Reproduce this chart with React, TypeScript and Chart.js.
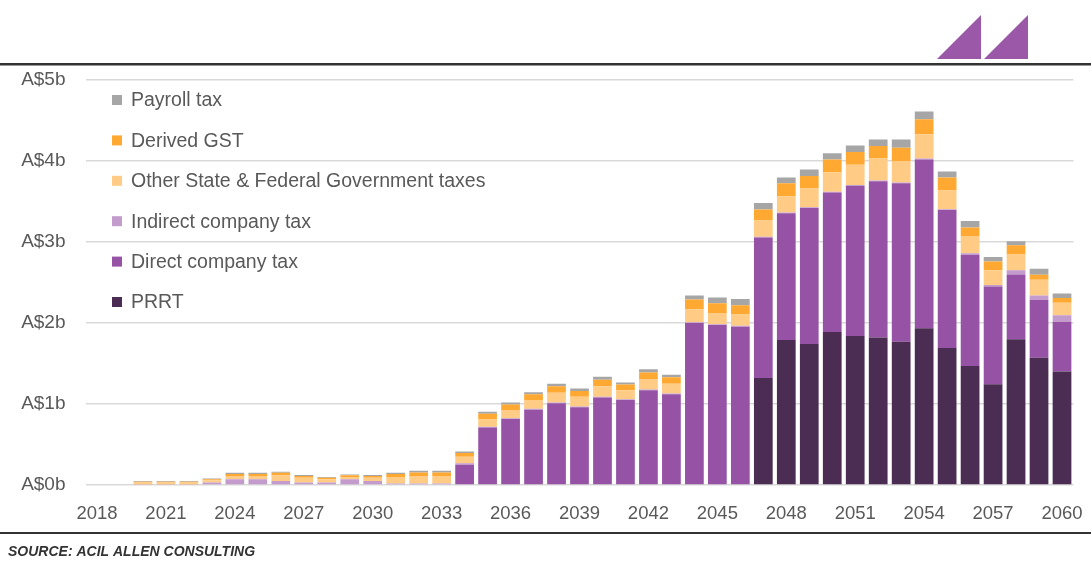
import React, { useEffect, useRef } from "react";
import { Chart, registerables } from "chart.js";
Chart.register(...registerables);

const years = [
  "2018", "2019", "2020", "2021", "2022", "2023", "2024", "2025", "2026", "2027",
  "2028", "2029", "2030", "2031", "2032", "2033", "2034", "2035", "2036", "2037",
  "2038", "2039", "2040", "2041", "2042", "2043", "2044", "2045", "2046", "2047",
  "2048", "2049", "2050", "2051", "2052", "2053", "2054", "2055", "2056", "2057",
  "2058", "2059", "2060",
];

const prrt = [
  0, 0, 0, 0, 0, 0, 0, 0, 0, 0,
  0, 0, 0, 0, 0, 0, 0, 0, 0, 0,
  0, 0, 0, 0, 0, 0, 0, 0, 0, 1.32,
  1.79, 1.74, 1.89, 1.84, 1.82, 1.77, 1.935, 1.69, 1.47, 1.245,
  1.8, 1.57, 1.4,
];

const directCompanyTax = [
  0, 0, 0, 0, 0, 0, 0, 0, 0, 0,
  0, 0, 0, 0, 0, 0, 0.25, 0.71, 0.815, 0.93,
  1.01, 0.96, 1.08, 1.05, 1.17, 1.12, 2.0, 1.975, 1.955, 1.735,
  1.565, 1.68, 1.72, 1.855, 1.93, 1.955, 2.085, 1.705, 1.37, 1.205,
  0.8, 0.715, 0.615,
];

const indirectCompanyTax = [
  0, 0, 0.005, 0.005, 0.005, 0.03, 0.07, 0.07, 0.05, 0.03,
  0.03, 0.07, 0.05, 0.02, 0.02, 0.02, 0.02, 0.01, 0.01, 0.01,
  0.01, 0.01, 0.01, 0.01, 0.01, 0.01, 0.01, 0.01, 0.01, 0.01,
  0.01, 0.01, 0.01, 0.01, 0.01, 0.01, 0.01, 0.01, 0.02, 0.02,
  0.05, 0.055, 0.08,
];

const otherTaxes = [
  0, 0, 0.025, 0.025, 0.025, 0.03, 0.04, 0.04, 0.07, 0.06,
  0.04, 0.03, 0.04, 0.08, 0.09, 0.09, 0.08, 0.09, 0.1, 0.11,
  0.12, 0.12, 0.13, 0.11, 0.13, 0.12, 0.16, 0.14, 0.14, 0.2,
  0.2, 0.23, 0.24, 0.25, 0.27, 0.265, 0.3, 0.23, 0.215, 0.18,
  0.195, 0.195, 0.155,
];

const derivedGst = [
  0, 0, 0.01, 0.01, 0.01, 0.01, 0.025, 0.025, 0.03, 0.02,
  0.02, 0.02, 0.02, 0.035, 0.045, 0.045, 0.045, 0.07, 0.07, 0.07,
  0.08, 0.07, 0.08, 0.07, 0.08, 0.08, 0.12, 0.12, 0.115, 0.135,
  0.16, 0.155, 0.16, 0.155, 0.155, 0.165, 0.185, 0.16, 0.105, 0.11,
  0.115, 0.06, 0.06,
];

const payrollTax = [
  0, 0, 0.01, 0.01, 0.01, 0.01, 0.015, 0.015, 0.015, 0.015,
  0.01, 0.01, 0.015, 0.015, 0.02, 0.02, 0.02, 0.025, 0.025, 0.025,
  0.03, 0.03, 0.035, 0.025, 0.04, 0.03, 0.05, 0.07, 0.075, 0.08,
  0.07, 0.08, 0.075, 0.08, 0.08, 0.1, 0.095, 0.075, 0.08, 0.055,
  0.05, 0.075, 0.055,
];

const yTickLabels = ["A$0b", "A$1b", "A$2b", "A$3b", "A$4b", "A$5b"];
const sourceText = "SOURCE: ACIL ALLEN CONSULTING";

const FONT = '"Liberation Sans", Arial, sans-serif';
const TEXT_GREY = "#595959";

const seriesDefs = [
  { label: "PRRT", data: prrt, color: "#4B2C52" },
  { label: "Direct company tax", data: directCompanyTax, color: "#9653A5" },
  { label: "Indirect company tax", data: indirectCompanyTax, color: "#C39BCC" },
  { label: "Other State & Federal Government taxes", data: otherTaxes, color: "#FFCB85" },
  { label: "Derived GST", data: derivedGst, color: "#FFA933" },
  { label: "Payroll tax", data: payrollTax, color: "#A6A6A6" },
];

const decorPlugin = {
  id: "decor",
  afterDraw(chart: any) {
    const ctx = chart.ctx as CanvasRenderingContext2D;
    const W = chart.width;
    ctx.save();
    // top rule
    ctx.fillStyle = "#333333";
    ctx.fillRect(0, 63, W, 2.5);
    // bottom rule
    ctx.fillRect(0, 532, W, 2);
    // logo triangles
    ctx.fillStyle = "#9B57A8";
    ctx.beginPath();
    ctx.moveTo(937, 59);
    ctx.lineTo(981, 15);
    ctx.lineTo(981, 59);
    ctx.closePath();
    ctx.fill();
    ctx.beginPath();
    ctx.moveTo(984, 59);
    ctx.lineTo(1028, 15);
    ctx.lineTo(1028, 59);
    ctx.closePath();
    ctx.fill();
    // source text
    ctx.fillStyle = "#333333";
    ctx.font = `italic bold 14px ${FONT}`;
    ctx.textBaseline = "middle";
    ctx.textAlign = "left";
    ctx.fillText(sourceText, 8, 552);
    // legend (reverse of stack order)
    const items = chart.data.datasets.slice().reverse();
    ctx.font = `19.5px ${FONT}`;
    items.forEach((ds: any, i: number) => {
      const cy = 100 + i * 40.4;
      ctx.fillStyle = ds.backgroundColor;
      ctx.fillRect(112, cy - 5, 10, 10);
      ctx.fillStyle = TEXT_GREY;
      ctx.fillText(ds.label, 131, cy + 1);
    });
    ctx.restore();
  },
};

export default function App() {
  const ref = useRef<HTMLCanvasElement | null>(null);
  useEffect(() => {
    if (!ref.current) return;
    const chart = new Chart(ref.current, {
      type: "bar",
      data: {
        labels: years,
        datasets: seriesDefs.map((s) => ({
          label: s.label,
          data: s.data,
          backgroundColor: s.color,
          borderWidth: 0,
          barPercentage: 0.815,
          categoryPercentage: 1,
        })),
      },
      options: {
        animation: false,
        responsive: true,
        maintainAspectRatio: false,
        layout: { padding: { left: 0, right: 17.5, top: 80, bottom: 0 } },
        plugins: {
          legend: { display: false },
          tooltip: { enabled: false },
        },
        scales: {
          x: {
            stacked: true,
            grid: { display: false, drawTicks: false },
            border: { display: false },
            ticks: {
              autoSkip: false,
              maxRotation: 0,
              minRotation: 0,
              padding: 18,
              color: TEXT_GREY,
              font: { family: FONT, size: 18.5 },
              callback: (_v: any, i: number) => (i % 3 === 0 ? years[i] : ""),
            },
            afterFit: (scale: any) => {
              scale.height = 76;
              scale.paddingLeft = 0;
              scale.paddingRight = 0;
            },
          },
          y: {
            stacked: true,
            min: 0,
            max: 5,
            grid: { color: "#D9D9D9", lineWidth: 1.5, drawTicks: false },
            border: { display: false },
            ticks: {
              stepSize: 1,
              padding: 20,
              color: TEXT_GREY,
              font: { family: FONT, size: 19 },
              callback: (v: any) => yTickLabels[Math.round(Number(v))],
            },
            afterFit: (scale: any) => {
              scale.width = 85.5;
              scale.paddingTop = 0;
              scale.paddingBottom = 0;
            },
          },
        },
      },
      plugins: [decorPlugin],
    });
    return () => chart.destroy();
  }, []);
  return (
    <div style={{ position: "absolute", left: 0, top: 0, width: 1091, height: 561, background: "#fff" }}>
      <canvas ref={ref} />
    </div>
  );
}
